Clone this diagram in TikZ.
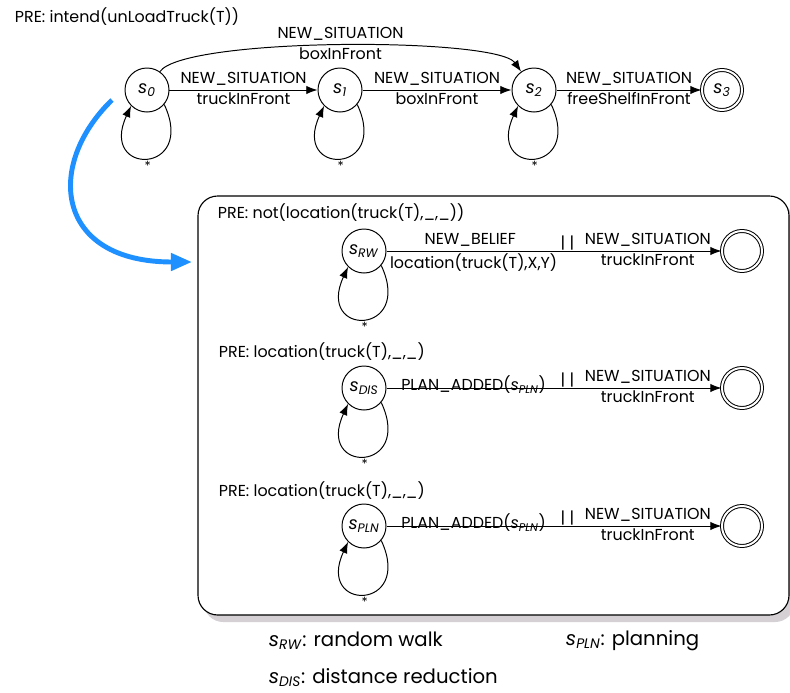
\documentclass[tikz,border=0pt]{standalone}
\usepackage{fontspec}
\setmainfont{Poppins}
\usepackage{xcolor}
\usetikzlibrary{arrows.meta, positioning, shadows}
\definecolor{flowblue}{HTML}{1E90FF}
\definecolor{shadowgray}{HTML}{D4D0D4}
\newcommand{\sname}[1]{\textit{s}\textsubscript{\textit{#1}}}
\tikzset{
  statenode/.style={circle, draw, line width=0.7pt, minimum size=1.1cm, inner sep=0pt, font=\fontsize{12.5}{14}\selectfont},
  finalnode/.style={statenode, double, double distance=1.4pt, minimum size=1.0cm},
  trans/.style={line width=0.7pt, -{Latex[length=8pt,width=6pt]}},
  lblup/.style={above, inner sep=3pt},
  lbldown/.style={below, inner sep=1.5pt},
  orbar/.style={above, inner sep=0pt},
  selfloop/.style={out=-65, in=-115, looseness=6},
  loopmark/.style={below, inner sep=2pt, font=\small},
}

\begin{document}
\begin{tikzpicture}[x=0.025cm, y=0.025cm, font=\fontsize{11.3}{13}\selectfont]
  \useasboundingbox (0,0) rectangle (790,-692);

  % top level automaton
  \node[anchor=west] (pre0) at (10,-17) {PRE: intend(unLoadTruck(T))};
  \node[statenode] (s0) at (147,-90) {\sname{0}};
  \node[statenode] (s1) at (340,-90) {\sname{1}};
  \node[statenode] (s2) at (534,-90) {\sname{2}};
  \node[finalnode] (s3) at (722,-90) {\sname{3}};

  \draw[trans] (s0) -- node[lblup] {NEW\_SITUATION} node[lbldown] {truckInFront} (s1);
  \draw[trans] (s1) -- node[lblup] {NEW\_SITUATION} node[lbldown] {boxInFront} (s2);
  \draw[trans] (s2) -- node[lblup] {NEW\_SITUATION} node[lbldown] {freeShelfInFront} (s3);
  \draw[trans] (s0) to[out=55, in=125, looseness=0.3]
    node[lblup] {NEW\_SITUATION} node[lbldown] {boxInFront} (s2);
  \foreach \s in {s0,s1,s2}
    \draw[trans] (\s.-40) to[selfloop] node[loopmark] {*} (\s.-135);

  % refinement box
  \draw[line width=0.8pt, rounded corners=14pt, fill=white,
    drop shadow={shadow xshift=4pt, shadow yshift=-5pt, fill=shadowgray, opacity=1}]
    (198,-196) rectangle (789,-615);

  \coordinate (bluestart) at (112,-100);
  \coordinate (bluetip) at (192,-262);
  \draw[flowblue, line width=3.5pt, -{Triangle[length=15pt,width=12pt]}]
    (bluestart) .. controls (45,-165) and (55,-262) .. (bluetip);

  % random walk
  \node[anchor=west] (preRW) at (213,-213) {PRE: not(location(truck(T),\_,\_))};
  \node[statenode] (sRW) at (364,-251) {\sname{RW}};
  \node[finalnode] (fRW) at (742,-251) {};
  \draw[trans] (sRW) --
    node[lblup, pos=0.25] {NEW\_BELIEF}
    node[lbldown, pos=0.26] {location(truck(T),X,Y)}
    node[orbar, pos=0.54] {| |}
    node[lblup, pos=0.78] {NEW\_SITUATION}
    node[lbldown, pos=0.78] {truckInFront} (fRW);

  % distance reduction
  \node[anchor=west] (preDIS) at (214,-352) {PRE: location(truck(T),\_,\_)};
  \node[statenode] (sDIS) at (364,-388) {\sname{DIS}};
  \node[finalnode] (fDIS) at (742,-388) {};
  \draw[trans] (sDIS) --
    node[anchor=base, yshift=-2pt, pos=0.26] {PLAN\_ADDED(\sname{PLN})}
    node[orbar, pos=0.54] {| |}
    node[lblup, pos=0.78] {NEW\_SITUATION}
    node[lbldown, pos=0.78] {truckInFront} (fDIS);

  % planning
  \node[anchor=west] (prePLN) at (214,-491) {PRE: location(truck(T),\_,\_)};
  \node[statenode] (sPLN) at (364,-526) {\sname{PLN}};
  \node[finalnode] (fPLN) at (742,-526) {};
  \draw[trans] (sPLN) --
    node[anchor=base, yshift=-2pt, pos=0.26] {PLAN\_ADDED(\sname{PLN})}
    node[orbar, pos=0.54] {| |}
    node[lblup, pos=0.78] {NEW\_SITUATION}
    node[lbldown, pos=0.78] {truckInFront} (fPLN);

  \foreach \s in {sRW,sDIS,sPLN}
    \draw[trans] (\s.-40) to[selfloop] node[loopmark] {*} (\s.-135);

  % legend
  \node[anchor=west, font=\fontsize{14}{16}\selectfont] (legRW) at (264,-641) {\sname{RW}: random walk};
  \node[anchor=west, font=\fontsize{14}{16}\selectfont] (legPLN) at (561,-641) {\sname{PLN}: planning};
  \node[anchor=west, font=\fontsize{14}{16}\selectfont] (legDIS) at (264,-678) {\sname{DIS}: distance reduction};
\end{tikzpicture}
\end{document}
